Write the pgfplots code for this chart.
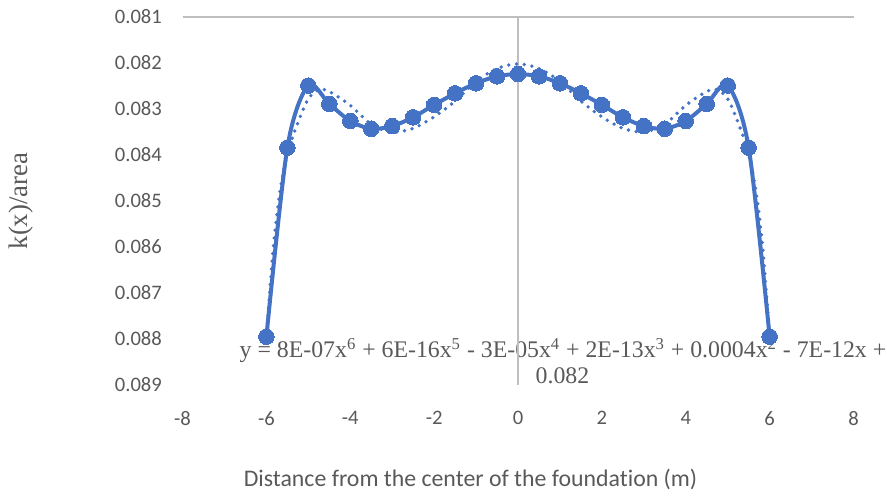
\documentclass[border=0pt]{standalone}
\usepackage{pgfplots}
\pgfplotsset{compat=1.18}
\usepackage{fontspec}
\setmainfont{Liberation Serif}
\newfontfamily\calibri[Ligatures=CommonOff]{Carlito}
\definecolor{xlblue}{HTML}{4472C4}
\definecolor{txtgray}{HTML}{595959}
\definecolor{axgray}{HTML}{BFBFBF}
\pgfplotstableread{
x y
-6.0 0.08795
-5.5 0.08384
-5.0 0.08249
-4.5 0.08289
-4.0 0.08326
-3.5 0.08343
-3.0 0.08337
-2.5 0.08318
-2.0 0.08291
-1.5 0.08266
-1.0 0.08244
-0.5 0.08229
0.0 0.08224
0.5 0.08229
1.0 0.08244
1.5 0.08266
2.0 0.08291
2.5 0.08318
3.0 0.08337
3.5 0.08343
4.0 0.08326
4.5 0.08289
5.0 0.08249
5.5 0.08384
6.0 0.08795
}\datatable
\pgfplotstableread{
x y
-6.00 0.08800
-5.84 0.08607
-5.68 0.08483
-5.50 0.08398
-5.25 0.08330
-5.00 0.08278
-4.75 0.08258
-4.50 0.08262
-4.00 0.08292
-3.50 0.08333
-3.00 0.08350
-2.50 0.08342
-2.00 0.08317
-1.50 0.08283
-1.00 0.08240
-0.50 0.08212
0.00 0.08202
0.50 0.08212
1.00 0.08240
1.50 0.08283
2.00 0.08317
2.50 0.08342
3.00 0.08350
3.50 0.08333
4.00 0.08292
4.50 0.08262
4.75 0.08258
5.00 0.08278
5.25 0.08330
5.50 0.08398
5.68 0.08483
5.84 0.08607
6.00 0.08800
}\trendtable
\begin{document}
\begin{tikzpicture}
\path[use as bounding box] (0,0) rectangle (443.5pt,248pt);
% trendline equation (drawn beneath everything)
\node[anchor=base, inner sep=0pt, text=txtgray, font=\fontsize{11.9}{14}\selectfont] at (281.5pt,69pt)
  {y = 8E-07x\textsuperscript{6} + 6E-16x\textsuperscript{5} - 3E-05x\textsuperscript{4} + 2E-13x\textsuperscript{3} + 0.0004x\textsuperscript{2} - 7E-12x +};
\node[anchor=base, inner sep=0pt, text=txtgray, font=\fontsize{11.9}{14}\selectfont] at (281.25pt,56pt) {0.082};
% axis lines
\draw[axgray, line width=0.75pt] (91.25pt,239.5pt) -- (426.75pt,239.5pt);
\draw[axgray, line width=0.75pt] (259pt,239.5pt) -- (259pt,55.5pt);
% axis titles
\node[rotate=90, text=txtgray, font=\fontsize{13.4}{15}\selectfont] at (10.5pt,147.5pt) {k(x)/area};
\node[anchor=base, inner sep=0pt, text=txtgray, font=\calibri\fontsize{11.9}{14}\selectfont] at (235.25pt,4.5pt) {Distance from the center of the foundation (m)};
\begin{axis}[
  at={(91.25pt,55.5pt)}, anchor=south west,
  scale only axis, width=335.5pt, height=184pt,
  xmin=-8, xmax=8, ymin=0.081, ymax=0.089,
  y dir=reverse,
  axis line style={draw=none},
  clip=false,
  scaled x ticks=false, scaled y ticks=false,
  xtick={-8,-6,-4,-2,0,2,4,6,8},
  xticklabels={-8,-6,-4,-2,0,2,4,6,8},
  ytick={0.081,0.082,0.083,0.084,0.085,0.086,0.087,0.088,0.089},
  yticklabels={0.081,0.082,0.083,0.084,0.085,0.086,0.087,0.088,0.089},
  major tick length=0pt,
  tick style={draw=none},
  ticklabel style={font=\calibri\fontsize{10.3}{12}\selectfont, text=txtgray},
  xticklabel style={anchor=north, yshift=-9.6pt},
  yticklabel style={anchor=east, xshift=-6.8pt},
  hide obscured x ticks=false, hide obscured y ticks=false,
]
\addplot[xlblue, line width=1.9pt, line cap=round, dash pattern=on 0pt off 3.9pt, smooth, tension=0.5] table[x=x,y=y] {\trendtable};
\addplot[xlblue, line width=2pt, smooth, tension=0.5, mark=*, mark size=3.9pt, mark options={solid, fill=xlblue, draw=xlblue, line width=0pt}] table[x=x,y=y] {\datatable};
\end{axis}
\end{tikzpicture}
\end{document}
